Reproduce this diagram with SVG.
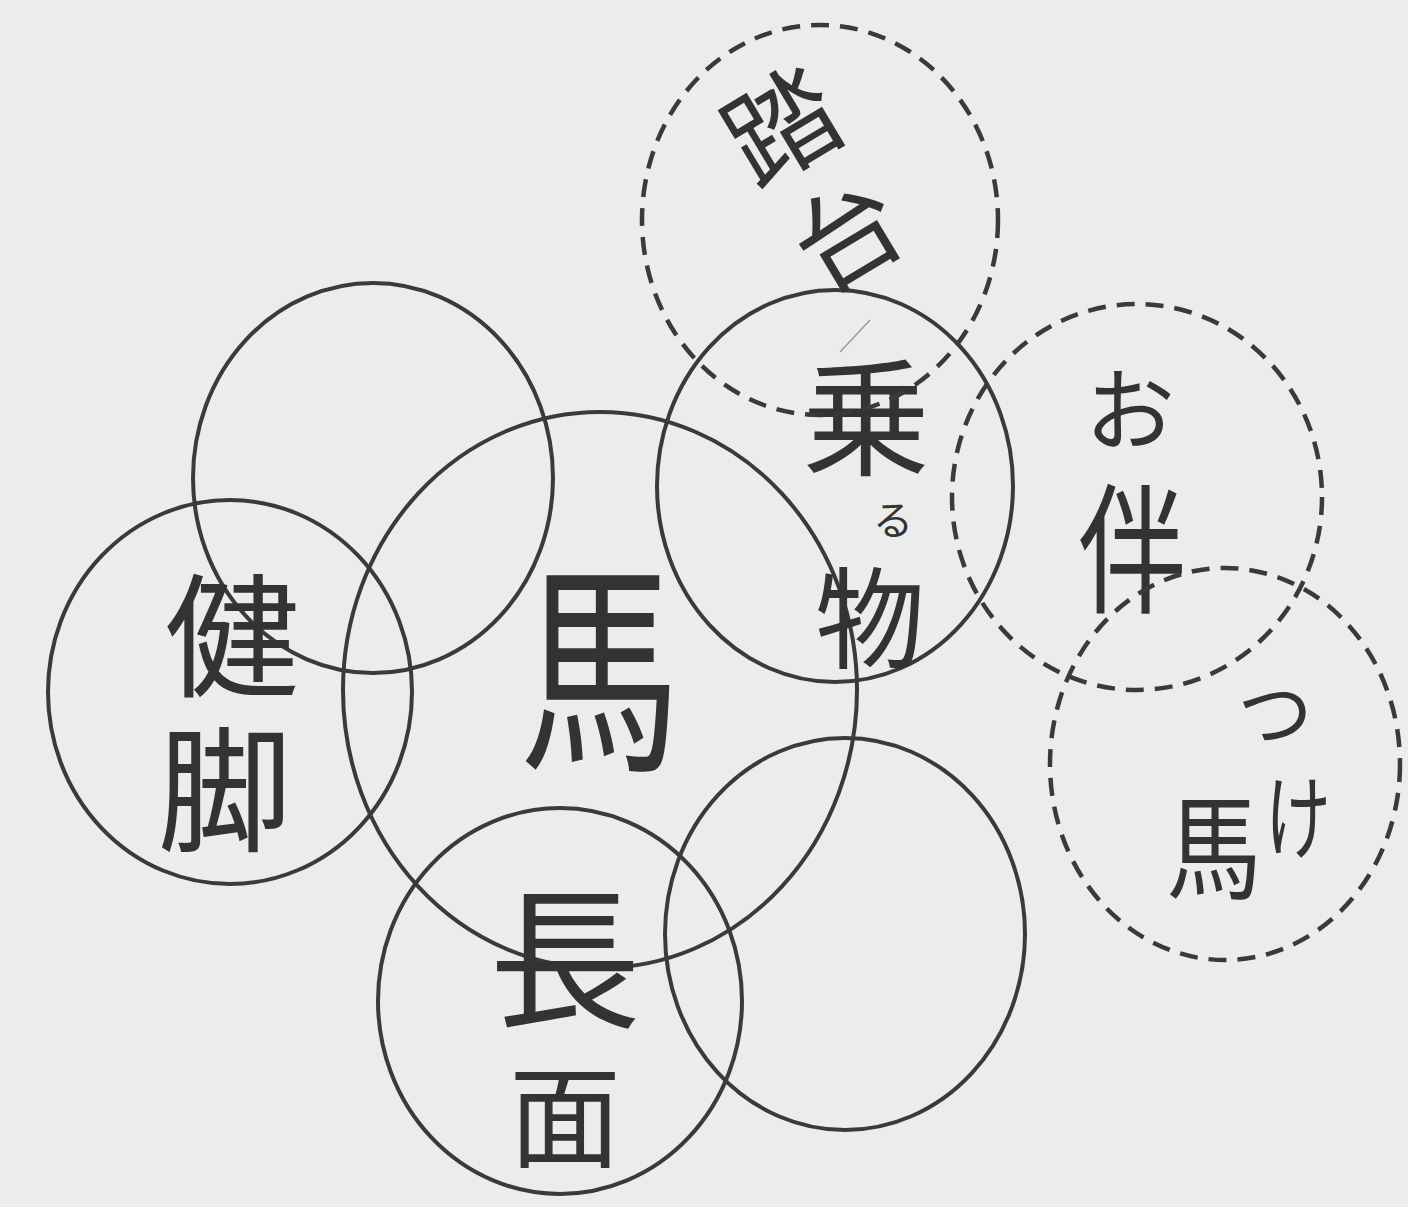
<svg xmlns="http://www.w3.org/2000/svg" width="1408" height="1207" viewBox="0 0 1408 1207">
<style>
.solid{fill:none;stroke:#3a3a3a;stroke-width:4}
.dash{fill:none;stroke:#3a3a3a;stroke-width:4.5;stroke-dasharray:18 11}
.t{font-family:"Noto Sans CJK JP","Noto Sans CJK SC",sans-serif;fill:#333;text-anchor:middle;dominant-baseline:central;font-weight:400}
</style>
<rect width="1408" height="1207" fill="#ececec"/>
<g id="connectors"><line x1="870" y1="320" x2="840" y2="352" stroke="#9a9a9a" stroke-width="1.5"/></g>
<g id="n-topleft"><ellipse class="solid" cx="373" cy="478" rx="180" ry="195"/></g>
<g id="n-kenkyaku"><ellipse class="solid" cx="230" cy="692" rx="182" ry="192"/>
<text class="t" x="232" y="628" font-size="135">健</text>
<text class="t" x="225" y="782" font-size="135">脚</text></g>
<g id="n-uma"><ellipse class="solid" cx="600" cy="690" rx="257" ry="278"/>
<text class="t" transform="translate(600 655) scale(1 1.4)" font-size="160">馬</text></g>
<g id="n-norumono"><ellipse class="solid" cx="835" cy="486" rx="178" ry="196"/>
<text class="t" x="866" y="410" font-size="128">乗</text>
<text class="t" x="893" y="518" font-size="40">る</text>
<text class="t" x="870" y="612" font-size="110">物</text></g>
<g id="n-chomen"><ellipse class="solid" cx="560" cy="1001" rx="182" ry="193"/>
<text class="t" x="565" y="950" font-size="152">長</text>
<text class="t" x="565" y="1110" font-size="112">面</text></g>
<g id="n-bottomright"><ellipse class="solid" cx="845" cy="934" rx="180" ry="196"/></g>
<g id="n-fumidai"><ellipse class="dash" cx="820" cy="220" rx="178" ry="195"/>
<g transform="translate(815 182) rotate(-31)">
<text class="t" x="0" y="-72" font-size="110">踏</text>
<text class="t" x="0" y="55" font-size="105">台</text></g></g>
<g id="n-otomo"><ellipse class="dash" cx="1137" cy="497" rx="185" ry="193"/>
<text class="t" x="1130" y="404" font-size="90">お</text>
<text class="t" transform="translate(1132 541) scale(1 1.3)" font-size="108">伴</text></g>
<g id="n-tsukeuma"><ellipse class="dash" cx="1225" cy="764" rx="175" ry="196"/>
<text class="t" x="1275" y="708" font-size="75">つ</text>
<text class="t" transform="translate(1298 812) scale(1 1.4)" font-size="66">け</text>
<text class="t" transform="translate(1214 840) scale(1 1.2)" font-size="95">馬</text></g>
</svg>
